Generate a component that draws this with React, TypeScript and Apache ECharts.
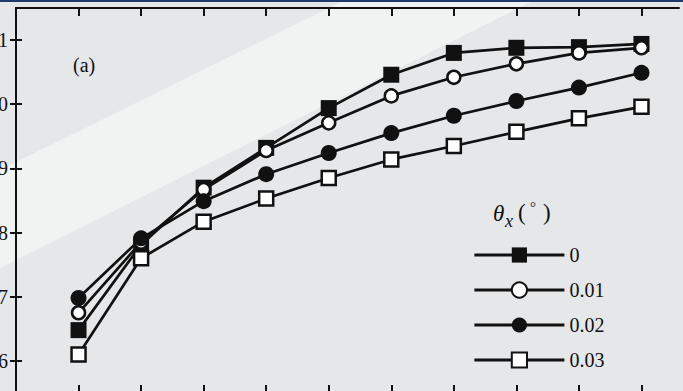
import React, { useEffect, useRef } from "react";
import * as echarts from "echarts";

const xValues = [1, 2, 3, 4, 5, 6, 7, 8, 9, 10];
const seriesNames = ["0", "0.01", "0.02", "0.03"];
const s0 = [0.648, 0.781, 0.87, 0.932, 0.994, 1.046, 1.08, 1.088, 1.089, 1.094];
const s1 = [0.675, 0.785, 0.867, 0.928, 0.971, 1.013, 1.042, 1.063, 1.08, 1.088];
const s2 = [0.698, 0.791, 0.849, 0.891, 0.924, 0.955, 0.982, 1.005, 1.026, 1.049];
const s3 = [0.61, 0.76, 0.817, 0.853, 0.885, 0.914, 0.935, 0.957, 0.978, 0.996];
const yTicks = [0.6, 0.7, 0.8, 0.9, 1.0, 1.1];
const panelLabel = "(a)";

const FONT = "Liberation Serif";
const BLACK = "#111111";

export default function App() {
  const ref = useRef<HTMLDivElement>(null);
  useEffect(() => {
    if (!ref.current) return;
    const chart = echarts.init(ref.current, null, { renderer: "svg" });
    const toData = (arr: number[]) => xValues.map((x, i) => [x, arr[i]]);
    const lineStyle = { color: BLACK, width: 2.7 };
    const axisLine = { show: true, lineStyle: { color: BLACK, width: 2 } };
    const xAxisBase = {
      type: "value",
      min: 0,
      max: 10.6,
      axisLine,
      axisTick: { show: true, inside: true, length: 8, customValues: xValues, lineStyle: { color: BLACK, width: 2 } },
      axisLabel: { show: false },
      splitLine: { show: false },
    };
    const yAxisBase = {
      type: "value",
      min: 0.55,
      max: 1.15,
      axisLine,
      axisTick: { show: true, inside: true, length: 6, customValues: yTicks, lineStyle: { color: BLACK, width: 2 } },
      splitLine: { show: false },
    };
    const mk = (name: string, data: number[], symbol: string, size: number, fill: string) => ({
      name,
      type: "line",
      data: toData(data),
      symbol,
      symbolSize: size,
      showAllSymbol: true,
      lineStyle,
      itemStyle: { color: fill, borderColor: BLACK, borderWidth: fill === BLACK ? 0 : 2.5, opacity: 1 },
      z: 3,
    });
    chart.setOption({
      animation: false,
      backgroundColor: "#e6e7e9",
      grid: { left: 16, right: 4, top: 8, height: 385, containLabel: false, outerBoundsMode: "none" },
      xAxis: [
        { ...xAxisBase, position: "bottom" },
        { ...xAxisBase, position: "top" },
      ],
      yAxis: [
        {
          ...yAxisBase,
          position: "left",
          axisLabel: {
            show: true,
            customValues: yTicks,
            formatter: (v: number) => v.toFixed(1),
            fontSize: 20,
            fontFamily: FONT,
            color: BLACK,
            margin: 8,
          },
        },
        { ...yAxisBase, position: "right", axisLabel: { show: false } },
      ],
      legend: {
        orient: "vertical",
        left: 468,
        top: 240,
        itemWidth: 90,
        itemHeight: 19,
        itemGap: 15,
        data: seriesNames,
        lineStyle: { width: 2.8, color: BLACK },
        textStyle: { fontSize: 20, fontFamily: FONT, color: BLACK, lineHeight: 20 },
      },
      graphic: [
        {
          type: "polygon",
          z: -10,
          silent: true,
          shape: { points: [[0, 170], [345, 0], [535, 0], [0, 268]] },
          style: { fill: "#f1f2f2" },
        },
        { type: "rect", z: 10, shape: { x: 0, y: 0, width: 683, height: 2 }, style: { fill: "#1f3a68" } },
        { type: "text", left: 73, top: 55, style: { text: panelLabel, font: `20px "${FONT}"`, fill: BLACK } },
        { type: "text", left: 493, top: 202, style: { text: "θ", font: `italic 23px "${FONT}"`, fill: BLACK } },
        { type: "text", left: 505, top: 212, style: { text: "x", font: `italic 18px "${FONT}"`, fill: BLACK } },
        { type: "text", left: 518, top: 201, style: { text: "(", font: `23px "${FONT}"`, fill: BLACK } },
        { type: "text", left: 530, top: 199, style: { text: "°", font: `15px "${FONT}"`, fill: BLACK } },
        { type: "text", left: 543, top: 201, style: { text: ")", font: `23px "${FONT}"`, fill: BLACK } },
      ],
      series: [
        mk(seriesNames[0], s0, "rect", 16, BLACK),
        mk(seriesNames[1], s1, "circle", 13, "#ffffff"),
        mk(seriesNames[2], s2, "circle", 16, BLACK),
        mk(seriesNames[3], s3, "rect", 14, "#ffffff"),
      ],
    });
    return () => chart.dispose();
  }, []);
  return (
    <div
      ref={ref}
      style={{ position: "absolute", left: 0, top: 0, width: 683, height: 391 }}
    />
  );
}
